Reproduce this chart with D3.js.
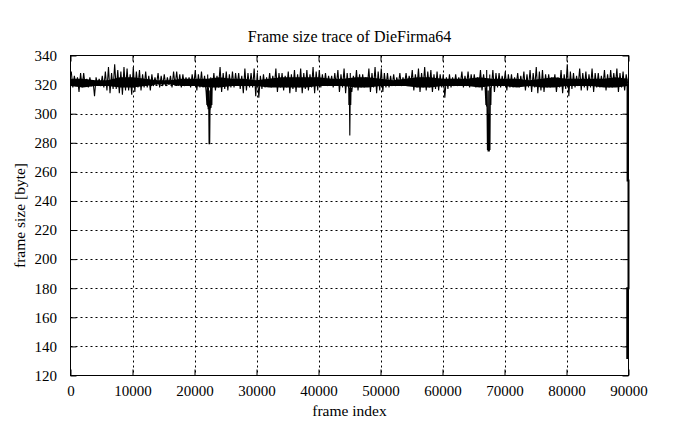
<!DOCTYPE html>
<html>
<head>
<meta charset="utf-8">
<script src="https://cdn.jsdelivr.net/npm/d3@7"></script>
<style>
  html, body { margin: 0; padding: 0; background: #fff; }
  svg { display: block; }
  text { font-family: "Liberation Serif", "Times New Roman", serif; fill: #000; }
</style>
</head>
<body>
<svg id="chart" width="695" height="429"></svg>
<script>
// ---- data ----
const chartTitle = "Frame size trace of DieFirma64";
const xLabel = "frame index";
const yLabel = "frame size [byte]";
const xTicks = [0, 10000, 20000, 30000, 40000, 50000, 60000, 70000, 80000, 90000];
const yTicks = [120, 140, 160, 180, 200, 220, 240, 260, 280, 300, 320, 340];
const binSize = 500;   // frames per envelope bin
const coreStep = 2000; // frames per dense-core sample

// upper envelope of frame size per 500-frame bin
const binMax = [
  329,326, 325,328, 328,324, 325,323, 325,324, 326,329, 332,328, 334,330, 329,332, 331,327,
  332,329, 330,327, 329,326, 327,325, 328,326, 327,325, 326,329, 329,327, 327,325, 325,327,
  330,327, 329,326, 327,325, 328,326, 332,328, 329,327, 329,328, 328,326, 331,328, 328,331,
  328,326, 327,325, 328,326, 331,328, 328,326, 329,327, 330,327, 331,328, 330,327, 332,329,
  330,327, 328,326, 326,328, 330,327, 331,328, 328,326, 330,327, 327,325, 331,328, 332,329,
  331,328, 328,326, 327,325, 328,325, 328,326, 330,327, 331,328, 332,329, 330,327, 329,327,
  327,325, 327,325, 327,325, 329,326, 329,327, 327,325, 330,327, 330,327, 330,328, 328,326,
  329,327, 327,325, 328,326, 329,327, 330,328, 332,329, 330,327, 327,325, 327,325, 330,327,
  334,329, 328,326, 331,328, 329,327, 331,328, 328,326, 330,327, 330,328, 331,328, 329,327
];
// lower envelope of frame size per 500-frame bin
const binMin = [
  318,319, 315,318, 319,318, 319,312, 320,319, 318,316, 314,317, 317,314, 313,316, 316,313,
  315,318, 316,318, 318,316, 319,320, 318,319, 319,320, 318,319, 319,318, 319,320, 318,319,
  316,318, 318,315, 316,318, 316,318, 315,317, 316,318, 318,319, 317,314, 316,318, 318,312,
  311,317, 318,319, 318,319, 315,318, 316,318, 314,317, 315,318, 314,317, 316,318, 314,316,
  318,319, 319,320, 318,319, 315,318, 314,317, 315,318, 316,318, 318,319, 315,318, 314,316,
  315,318, 318,319, 319,320, 319,320, 319,320, 316,318, 315,318, 316,318, 315,317, 316,318,
  311,317, 318,319, 319,320, 318,319, 318,319, 318,319, 316,318, 316,318, 315,318, 318,319,
  316,318, 318,319, 318,319, 316,318, 315,318, 314,316, 315,318, 318,319, 315,318, 314,317,
  312,317, 318,319, 316,318, 316,318, 315,318, 318,319, 316,318, 318,319, 315,318, 316,318
];
// dense core of the trace, sampled every 2000 frames
const coreMax = [324,324,323,323,325,325,324,323,323,324,324,324,325,324,324,323,324,325,325,325,325,324,324,
                 325,325,324,323,324,325,325,324,324,324,325,324,324,324,323,324,325,324,324,324,324,325,324];
const coreMin = [319,318,319,319,318,318,319,320,320,319,319,318,318,319,319,319,318,318,318,318,319,319,319,
                 318,318,319,319,319,318,318,319,319,319,318,319,319,318,319,318,318,319,319,319,318,318,319];
// the three deep drops (frame index, frame size)
const dipFrames = [
  22000,22050,22100,22150,22200,22250,22300,22350,22400,22450,22500,22550,22600,22650,22700,22750,22800,22850,
  44850,44900,44950,45000,45050,45100,45150,45200,45250,
  67000,67050,67100,67150,67250,67300,67350,67400,67450,67500,67550,67600,67650,67700,67750,67800,67850
];
const dipSizes = [
  306,318,305,318,303,318,304,279,300,279,302,304,318,304,306,318,306,318,
  318,306,318,306,285,306,318,306,318,
  306,318,305,318,275,300,274,300,274,300,274,300,275,305,318,306,318
];
// final frames: the drop at the end of the trace
const tailFrames = [89850, 89850, 90000, 90000, 89800, 89800, 90000];
const tailSizes  = [321, 254, 254, 180, 180, 132, 132];

// ---- layout ----
const svg = d3.select("#chart");
const plot = { left: 70.5, right: 628.5, top: 55.5, bottom: 375.5 };

const x = d3.scaleLinear().domain([0, 90000]).range([plot.left, plot.right]);
const y = d3.scaleLinear().domain([120, 340]).range([plot.bottom, plot.top]);

// build trace points
let pts = [];
binMax.forEach((v, i) => {
  pts.push({ f: i * binSize + binSize * 0.25, v: v });
  pts.push({ f: i * binSize + binSize * 0.75, v: binMin[i] });
});
dipFrames.forEach((f, i) => pts.push({ f: f, v: dipSizes[i] }));
pts.sort((a, b) => a.f - b.f);
pts = pts.filter(p => p.f < tailFrames[0]);
pts.push({ f: tailFrames[0], v: tailSizes[0] });

const corePts = coreMax.map((v, i) => ({ f: Math.min(i * coreStep, 89850), hi: v, lo: coreMin[i] }));

// grid
const gGrid = svg.append("g");
gGrid.selectAll("line.vx")
  .data(xTicks.filter(t => t > 0 && t < 90000))
  .enter().append("line")
  .attr("x1", d => Math.round(x(d)) + 0.5).attr("x2", d => Math.round(x(d)) + 0.5)
  .attr("y1", plot.top).attr("y2", plot.bottom)
  .attr("stroke", "#000").attr("stroke-width", 1).attr("stroke-dasharray", "2,3");
gGrid.selectAll("line.hy")
  .data(yTicks.filter(t => t > 120 && t < 340))
  .enter().append("line")
  .attr("y1", d => Math.round(y(d)) + 0.5).attr("y2", d => Math.round(y(d)) + 0.5)
  .attr("x1", plot.left).attr("x2", plot.right)
  .attr("stroke", "#000").attr("stroke-width", 1).attr("stroke-dasharray", "2,3");

// dense core band
svg.append("path")
  .datum(corePts)
  .attr("d", d3.area().x(d => x(d.f)).y0(d => y(d.lo)).y1(d => y(d.hi)))
  .attr("fill", "#000");

// trace line
const line = d3.line().x(d => x(d.f)).y(d => y(d.v));
svg.append("path")
  .datum(pts)
  .attr("d", line)
  .attr("fill", "none")
  .attr("stroke", "#000")
  .attr("stroke-width", 1.1)
  .attr("stroke-linejoin", "miter");

// final drop
svg.append("path")
  .datum(tailFrames.map((f, i) => ({ f: f, v: tailSizes[i] })))
  .attr("d", line)
  .attr("fill", "none")
  .attr("stroke", "#000")
  .attr("stroke-width", 2);

// axes (gnuplot style: inward ticks, mirrored)
const tickLen = 6;
const fontTick = 15;
const gx = svg.append("g").attr("transform", `translate(0,${plot.bottom})`)
  .call(d3.axisBottom(x).tickValues(xTicks).tickSizeInner(-tickLen).tickSizeOuter(0).tickPadding(tickLen + 4).tickFormat(d3.format("d")));
const gxTop = svg.append("g").attr("transform", `translate(0,${plot.top})`)
  .call(d3.axisTop(x).tickValues(xTicks).tickSizeInner(-tickLen).tickSizeOuter(0).tickFormat(""));
const gy = svg.append("g").attr("transform", `translate(${plot.left},0)`)
  .call(d3.axisLeft(y).tickValues(yTicks).tickSizeInner(-tickLen).tickSizeOuter(0).tickPadding(tickLen + 7.5).tickFormat(d3.format("d")));
const gyR = svg.append("g").attr("transform", `translate(${plot.right},0)`)
  .call(d3.axisRight(y).tickValues(yTicks).tickSizeInner(-tickLen).tickSizeOuter(0).tickFormat(""));

[gx, gxTop, gy, gyR].forEach(g => {
  g.select(".domain").remove();
  g.selectAll(".tick line").attr("stroke", "#000");
  g.selectAll("text")
    .style("font-family", '"Liberation Serif", "Times New Roman", serif')
    .style("font-size", fontTick + "px")
    .attr("fill", "#000");
});

// frame box
svg.append("rect")
  .attr("x", plot.left).attr("y", plot.top)
  .attr("width", plot.right - plot.left).attr("height", plot.bottom - plot.top)
  .attr("fill", "none").attr("stroke", "#000").attr("stroke-width", 1);

// titles
svg.append("text")
  .attr("x", (plot.left + plot.right) / 2).attr("y", 42)
  .attr("text-anchor", "middle")
  .style("font-size", "16px")
  .text(chartTitle);
svg.append("text")
  .attr("x", (plot.left + plot.right) / 2).attr("y", 416)
  .attr("text-anchor", "middle")
  .style("font-size", "15.5px")
  .text(xLabel);
svg.append("text")
  .attr("transform", `translate(25,${(plot.top + plot.bottom) / 2}) rotate(-90)`)
  .attr("text-anchor", "middle")
  .style("font-size", "15.5px")
  .text(yLabel);
</script>
</body>
</html>
